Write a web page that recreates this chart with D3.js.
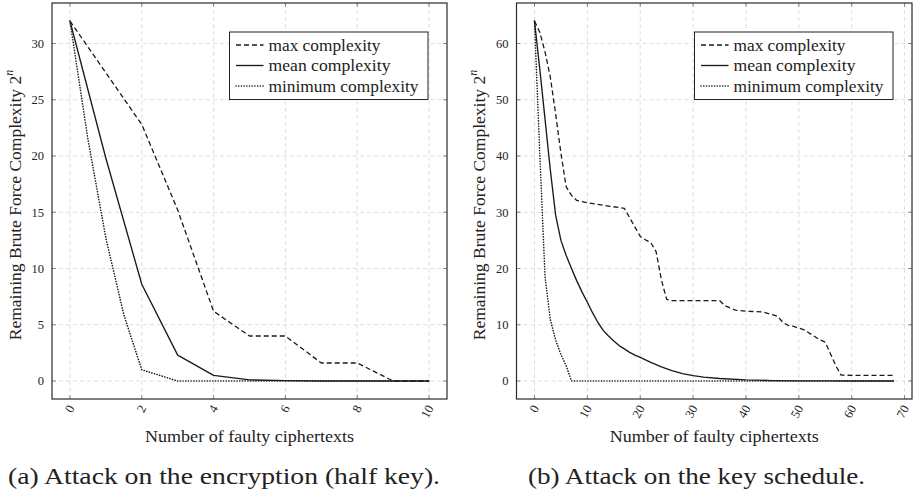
<!DOCTYPE html>
<html>
<head>
<meta charset="utf-8">
<script src="https://cdn.jsdelivr.net/npm/d3@7"></script>
<style>
  html, body { margin: 0; padding: 0; background: #fff; }
  svg { display: block; }
</style>
</head>
<body>
<svg id="chart" width="916" height="496"></svg>
<script>
// ---------- Data ----------
// (a) Attack on the encryption (half key)
const aMaxX  = [0, 1, 2, 3, 4, 5, 6, 7, 8, 9, 10];
const aMax   = [32, 27.4, 22.8, 15.2, 6.2, 4.0, 4.0, 1.6, 1.6, 0, 0];
const aMeanX = [0, 1, 2, 3, 4, 5, 6, 7, 8, 9, 10];
const aMean  = [32, 19.8, 8.6, 2.3, 0.5, 0.1, 0.03, 0, 0, 0, 0];
const aMinX  = [0, 0.5, 1, 1.5, 2, 3, 4, 5, 6, 7, 8, 9, 10];
const aMin   = [32, 21.5, 12.7, 5.9, 1.0, 0, 0, 0, 0, 0, 0, 0, 0];
const aXTicks = [0, 2, 4, 6, 8, 10];
const aYTicks = [0, 5, 10, 15, 20, 25, 30];

// (b) Attack on the key schedule
const bMaxX = [0, 1, 2, 3, 4, 5, 6, 7, 8, 10, 12, 14, 17, 20, 21, 22, 23, 24, 25, 26, 30, 35, 36, 38, 40, 43, 45, 46, 47, 48, 49, 51, 54, 55, 57, 58, 60, 68];
const bMax  = [64, 62, 58.5, 54, 47.5, 40.5, 34.5, 33, 32.1, 31.7, 31.4, 31.1, 30.7, 25.7, 25.1, 24.6, 23.0, 18.0, 14.5, 14.3, 14.3, 14.3, 13.4, 12.6, 12.4, 12.3, 11.8, 11.5, 10.4, 9.9, 9.7, 9.1, 7.3, 6.9, 2.7, 1.05, 1.0, 1.0];
const bMeanX = [0, 1, 2, 3, 4, 5, 6, 7, 8, 9, 10, 11, 12, 13, 14, 15, 16, 17, 18, 19, 20, 22, 24, 26, 28, 30, 32, 35, 40, 45, 50, 55, 60, 68];
const bMean  = [64, 55.5, 46.5, 37.5, 29.5, 25, 22.3, 20, 17.8, 15.8, 14, 12.1, 10.4, 9.0, 8.0, 7.1, 6.3, 5.7, 5.1, 4.6, 4.2, 3.3, 2.5, 1.85, 1.3, 0.95, 0.7, 0.45, 0.2, 0.08, 0.03, 0.01, 0, 0];
const bMinX = [0, 1, 2, 3, 4, 5, 6, 7, 68];
const bMin  = [64, 40.5, 18.5, 10.9, 7.3, 4.7, 2.7, 0, 0];
const bXTicks = [0, 10, 20, 30, 40, 50, 60, 70];
const bYTicks = [0, 10, 20, 30, 40, 50, 60];

const legendLabels = ["max complexity", "mean complexity", "minimum complexity"];
const xLabel = "Number of faulty ciphertexts";
const yLabel = "Remaining Brute Force Complexity 2";
const captions = ["(a) Attack on the encryption (half key).", "(b) Attack on the key schedule."];

// ---------- Drawing ----------
const svg = d3.select("#chart");
const FONT = "Liberation Serif";
const styles = [
  { dash: "5,3", width: 1.3, cap: "butt" },
  { dash: null, width: 1.35, cap: "butt" },
  { dash: "0.1,2.6", width: 1.6, cap: "round" }
];

function panel(cfg) {
  const x = d3.scaleLinear().domain(cfg.xDomain).range([cfg.left, cfg.right]);
  const y = d3.scaleLinear().domain(cfg.yDomain).range([cfg.bottom, cfg.top]);
  const g = svg.append("g").attr("font-family", FONT).attr("fill", "#222");

  // grid
  g.append("g").selectAll("line").data(cfg.xTicks).join("line")
    .attr("x1", d => x(d)).attr("x2", d => x(d))
    .attr("y1", cfg.top).attr("y2", cfg.bottom)
    .attr("stroke", "#dedede").attr("stroke-width", 1).attr("stroke-dasharray", "4,3");
  g.append("g").selectAll("line").data(cfg.yTicks).join("line")
    .attr("x1", cfg.left).attr("x2", cfg.right)
    .attr("y1", d => y(d)).attr("y2", d => y(d))
    .attr("stroke", "#dedede").attr("stroke-width", 1).attr("stroke-dasharray", "4,3");

  // inner ticks on all sides
  const tk = 4;
  const tickG = g.append("g").attr("stroke", "#8a8a8a").attr("stroke-width", 1);
  cfg.xTicks.forEach(d => {
    tickG.append("line").attr("x1", x(d)).attr("x2", x(d)).attr("y1", cfg.bottom).attr("y2", cfg.bottom - tk);
    tickG.append("line").attr("x1", x(d)).attr("x2", x(d)).attr("y1", cfg.top).attr("y2", cfg.top + tk);
  });
  cfg.yTicks.forEach(d => {
    tickG.append("line").attr("x1", cfg.left).attr("x2", cfg.left + tk).attr("y1", y(d)).attr("y2", y(d));
    tickG.append("line").attr("x1", cfg.right).attr("x2", cfg.right - tk).attr("y1", y(d)).attr("y2", y(d));
  });

  // series
  cfg.series.forEach((s, i) => {
    const pts = s.xs.map((xv, k) => [xv, s.ys[k]]);
    g.append("path")
      .attr("d", d3.line().x(d => x(d[0])).y(d => y(d[1]))(pts))
      .attr("fill", "none")
      .attr("stroke", "#1a1a1a")
      .attr("stroke-width", styles[i].width)
      .attr("stroke-linejoin", "round")
      .attr("stroke-linecap", styles[i].cap)
      .attr("stroke-dasharray", styles[i].dash);
  });

  // frame
  g.append("rect")
    .attr("x", cfg.left).attr("y", cfg.top)
    .attr("width", cfg.right - cfg.left).attr("height", cfg.bottom - cfg.top)
    .attr("fill", "none").attr("stroke", "#2a2a2a").attr("stroke-width", 1.2);

  // y tick labels
  g.append("g").selectAll("text").data(cfg.yTicks).join("text")
    .attr("x", cfg.left - 8).attr("y", d => y(d)).attr("dy", "0.35em")
    .attr("text-anchor", "end").attr("font-size", 12.5).text(d => d);

  // x tick labels (rotated)
  g.append("g").selectAll("text").data(cfg.xTicks).join("text")
    .attr("transform", d => `translate(${x(d) + 1},${cfg.bottom + 7}) rotate(-62)`)
    .attr("dy", "0.35em")
    .attr("text-anchor", "end").attr("font-size", 12.5).text(d => d);

  // axis labels
  g.append("text")
    .attr("x", (cfg.left + cfg.right) / 2).attr("y", 442)
    .attr("text-anchor", "middle").attr("font-size", 17)
    .attr("textLength", 209).attr("lengthAdjust", "spacingAndGlyphs")
    .text(xLabel);
  const yl = g.append("text")
    .attr("transform", `translate(${cfg.ylabelX},${(cfg.top + cfg.bottom) / 2 + 4}) rotate(-90)`)
    .attr("text-anchor", "middle").attr("font-size", 17.5);
  yl.append("tspan").text(yLabel);
  yl.append("tspan").attr("font-size", 12).attr("font-style", "italic").attr("dy", "-0.7em").text("n");

  // legend
  const lg = g.append("g");
  lg.append("rect")
    .attr("x", cfg.legX).attr("y", 32).attr("width", 198.5).attr("height", 67.5)
    .attr("fill", "#fff").attr("stroke", "#222").attr("stroke-width", 1);
  legendLabels.forEach((lab, i) => {
    const cy = 45 + i * 20.5;
    lg.append("line")
      .attr("x1", cfg.legX + 6.5).attr("x2", cfg.legX + 34)
      .attr("y1", cy).attr("y2", cy)
      .attr("stroke", "#1a1a1a").attr("stroke-width", styles[i].width)
      .attr("stroke-linecap", styles[i].cap)
      .attr("stroke-dasharray", styles[i].dash);
    lg.append("text")
      .attr("x", cfg.legX + 39).attr("y", cy).attr("dy", "0.33em")
      .attr("font-size", 17.5)
      .attr("textLength", [112, 122, 150][i]).attr("lengthAdjust", "spacingAndGlyphs")
      .text(lab);
  });

  // caption
  g.append("text")
    .attr("x", cfg.capX).attr("y", 484)
    .attr("font-size", 24)
    .attr("textLength", cfg.capLen).attr("lengthAdjust", "spacingAndGlyphs")
    .text(cfg.caption);
}

panel({
  left: 52, right: 447, top: 3, bottom: 399,
  xDomain: [-0.5, 10.5], yDomain: [-1.6, 33.6],
  xTicks: aXTicks, yTicks: aYTicks,
  series: [{ xs: aMaxX, ys: aMax }, { xs: aMeanX, ys: aMean }, { xs: aMinX, ys: aMin }],
  ylabelX: 21, legX: 229.5,
  caption: captions[0], capX: 8, capLen: 432
});

panel({
  left: 516.5, right: 912, top: 3, bottom: 399,
  xDomain: [-3.4, 71.4], yDomain: [-3.2, 67.2],
  xTicks: bXTicks, yTicks: bYTicks,
  series: [{ xs: bMaxX, ys: bMax }, { xs: bMeanX, ys: bMean }, { xs: bMinX, ys: bMin }],
  ylabelX: 485, legX: 694.5,
  caption: captions[1], capX: 528, capLen: 337
});
</script>
</body>
</html>
